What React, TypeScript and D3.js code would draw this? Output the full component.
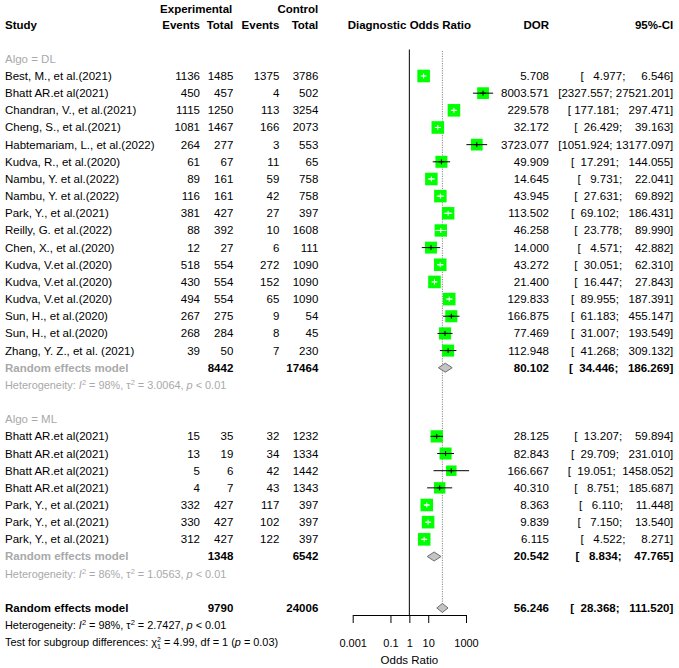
import React, { useEffect, useRef } from "react";
import * as d3 from "d3";

// ---------- DATA ----------
const dlStudy = [
  "Best, M., et al.(2021)", "Bhatt AR.et al(2021)", "Chandran, V., et al.(2021)", "Cheng, S., et al.(2021)",
  "Habtemariam, L., et al.(2022)", "Kudva, R., et al.(2020)", "Nambu, Y. et al.(2022)", "Nambu, Y. et al.(2022)",
  "Park, Y., et al.(2021)", "Reilly, G. et al.(2022)", "Chen, X., et al.(2020)", "Kudva, V.et al.(2020)",
  "Kudva, V.et al.(2020)", "Kudva, V.et al.(2020)", "Sun, H., et al.(2020)", "Sun, H., et al.(2020)",
  "Zhang, Y. Z., et al. (2021)",
];
const dlExpEvents = [1136, 450, 1115, 1081, 264, 61, 89, 116, 381, 88, 12, 518, 430, 494, 267, 268, 39];
const dlExpTotal = [1485, 457, 1250, 1467, 277, 67, 161, 161, 427, 392, 27, 554, 554, 554, 275, 284, 50];
const dlCtrlEvents = [1375, 4, 113, 166, 3, 11, 59, 42, 27, 10, 6, 272, 152, 65, 9, 8, 7];
const dlCtrlTotal = [3786, 502, 3254, 2073, 553, 65, 758, 758, 397, 1608, 111, 1090, 1090, 1090, 54, 45, 230];
const dlDor = [5.708, 8003.571, 229.578, 32.172, 3723.077, 49.909, 14.645, 43.945, 113.502, 46.258, 14.0, 43.272, 21.4, 129.833, 166.875, 77.469, 112.948];
const dlLower = [4.977, 2327.557, 177.181, 26.429, 1051.924, 17.291, 9.731, 27.631, 69.102, 23.778, 4.571, 30.051, 16.447, 89.955, 61.183, 31.007, 41.268];
const dlUpper = [6.546, 27521.201, 297.471, 39.163, 13177.097, 144.055, 22.041, 69.892, 186.431, 89.99, 42.882, 62.31, 27.843, 187.391, 455.147, 193.549, 309.132];
const dlWeight = [4.44, 3.88, 4.42, 4.43, 3.86, 4.02, 4.38, 4.36, 4.34, 4.27, 3.97, 4.39, 4.42, 4.39, 4.06, 4.12, 4.06];

const mlStudy = [
  "Bhatt AR.et al(2021)", "Bhatt AR.et al(2021)", "Bhatt AR.et al(2021)", "Bhatt AR.et al(2021)",
  "Park, Y., et al.(2021)", "Park, Y., et al.(2021)", "Park, Y., et al.(2021)",
];
const mlExpEvents = [15, 13, 5, 4, 332, 330, 312];
const mlExpTotal = [35, 19, 6, 7, 427, 427, 427];
const mlCtrlEvents = [32, 34, 42, 43, 117, 102, 122];
const mlCtrlTotal = [1232, 1334, 1442, 1343, 397, 397, 397];
const mlDor = [28.125, 82.843, 166.667, 40.31, 8.363, 9.839, 6.115];
const mlLower = [13.207, 29.709, 19.051, 8.751, 6.11, 7.15, 4.522];
const mlUpper = [59.894, 231.01, 1458.052, 185.687, 11.448, 13.54, 8.271];
const mlWeight = [4.22, 4.04, 3.07, 3.64, 4.41, 4.41, 4.41];

const groupLabels = ["Algo = DL", "Algo = ML"];
const summaryDor = [80.102, 20.542, 56.246];
const summaryLower = [34.446, 8.834, 28.368];
const summaryUpper = [186.269, 47.765, 111.52];
const summaryExpTotal = [8442, 1348, 9790];
const summaryCtrlTotal = [17464, 6542, 24006];
const hetI2 = ["98%", "86%", "98%"];
const hetTau2 = ["3.0064", "1.0563", "2.7427"];
const hetP = ["0.01", "0.01", "0.01"];
const testChi2 = "4.99";
const testDf = "1";
const testP = "0.03";

const tickValues = [0.001, 0.1, 1, 10, 1000];
const tickLabels = ["0.001", "0.1", "1", "10", "1000"];

// ---------- STYLE ----------
const FONT = "'Liberation Sans', Arial, Helvetica, sans-serif";
const FS = 11.5;
const FS_HET = 10.9;
const GRAY = "#a9a9a9";
const GREEN = "#00ff00";

const x = d3.scaleLog().domain([0.001, 1000]).range([352.7, 466]);
const y = d3.scaleLinear().domain([0, 33]).range([76, 642.3]);
const side = d3.scaleSqrt().domain([0, 4.44]).range([0, 12.6]);
const fmt3 = d3.format(".3f");

const allLower = [...dlLower, ...mlLower, ...summaryLower].map(fmt3);
const allUpper = [...dlUpper, ...mlUpper, ...summaryUpper].map(fmt3);
const lw = d3.max(allLower, (s) => s.length) as number;
const uw = d3.max(allUpper, (s) => s.length) as number;
const ciText = (lo: number, up: number) =>
  "[" + fmt3(lo).padStart(lw, " ") + "; " + fmt3(up).padStart(uw, " ") + "]";

const COL = { study: 5, expEv: 200, expTot: 233.3, ctlEv: 279.3, ctlTot: 318.3, dor: 549, ci: 673.3 };

type TP = { x: number; y: number; anchor?: string; bold?: boolean; color?: string; size?: number; children: any };
const T = ({ x, y, anchor = "start", bold = false, color = "#000", size = FS, children }: TP) => (
  <text
    x={x}
    y={y}
    textAnchor={anchor}
    fontWeight={bold ? "bold" : "normal"}
    fill={color}
    fontSize={size}
    fontFamily={FONT}
    style={{ whiteSpace: "pre" }}
    xmlSpace="preserve"
  >
    {children}
  </text>
);

const base = (r: number) => y(r) + 4;

function StudyRow({ r, name, ee, et, ce, ct, dor, lo, up, w }: any) {
  const cy = y(r);
  const cx = x(dor);
  const s = side(w);
  const inside = x(lo) >= cx - s / 2 && x(up) <= cx + s / 2;
  const lc = inside ? "#fff" : "#000";
  return (
    <g>
      <T x={COL.study} y={base(r)}>{name}</T>
      <T x={COL.expEv} y={base(r)} anchor="end">{ee}</T>
      <T x={COL.expTot} y={base(r)} anchor="end">{et}</T>
      <T x={COL.ctlEv} y={base(r)} anchor="end">{ce}</T>
      <T x={COL.ctlTot} y={base(r)} anchor="end">{ct}</T>
      <rect x={cx - s / 2} y={cy - s / 2} width={s} height={s} fill={GREEN} />
      <line x1={x(lo)} x2={x(up)} y1={cy} y2={cy} stroke={lc} strokeWidth={1} />
      <line x1={cx - 3} x2={cx + 3} y1={cy} y2={cy} stroke={lc} strokeWidth={1} />
      <line x1={cx} x2={cx} y1={cy - 2.5} y2={cy + 2.5} stroke={lc} strokeWidth={1} />
      <T x={COL.dor} y={base(r)} anchor="end">{fmt3(dor)}</T>
      <T x={COL.ci} y={base(r)} anchor="end">{ciText(lo, up)}</T>
    </g>
  );
}

function SummaryRow({ r, i, overall }: { r: number; i: number; overall: boolean }) {
  const cy = y(r);
  const h = 4.5;
  const p = `M${x(summaryLower[i])},${cy}L${x(summaryDor[i])},${cy - h}L${x(summaryUpper[i])},${cy}L${x(summaryDor[i])},${cy + h}Z`;
  return (
    <g>
      <T x={COL.study} y={base(r)} bold color={overall ? "#000" : GRAY}>Random effects model</T>
      <T x={COL.expTot} y={base(r)} anchor="end" bold>{summaryExpTotal[i]}</T>
      <T x={COL.ctlTot} y={base(r)} anchor="end" bold>{summaryCtrlTotal[i]}</T>
      <path d={p} fill="#c4c4c4" stroke="#6e6e6e" strokeWidth={1} />
      <T x={COL.dor} y={base(r)} anchor="end" bold>{fmt3(summaryDor[i])}</T>
      <T x={COL.ci} y={base(r)} anchor="end" bold>{ciText(summaryLower[i], summaryUpper[i])}</T>
    </g>
  );
}

function HetRow({ r, i, color }: { r: number; i: number; color: string }) {
  return (
    <T x={COL.study} y={base(r)} size={FS_HET} color={color}>
      {"Heterogeneity: "}
      <tspan fontStyle="italic">I</tspan>
      <tspan dy={-4} fontSize={7.5}>2</tspan>
      <tspan dy={4}>{" = " + hetI2[i] + ", τ"}</tspan>
      <tspan dy={-4} fontSize={7.5}>2</tspan>
      <tspan dy={4}>{" = " + hetTau2[i] + ", "}</tspan>
      <tspan fontStyle="italic">p</tspan>
      {" < " + hetP[i]}
    </T>
  );
}

export default function App() {
  const axisRef = useRef<SVGGElement>(null);
  useEffect(() => {
    if (!axisRef.current) return;
    const g = d3.select(axisRef.current);
    g.call(
      d3
        .axisBottom(x)
        .tickValues(tickValues)
        .tickFormat((_d, i) => tickLabels[i])
        .tickSize(8)
        .tickSizeOuter(0)
        .tickPadding(16) as any
    );
    g.attr("font-family", FONT).attr("font-size", 11);
    g.selectAll("text").attr("fill", "#000");
    g.selectAll("line").attr("stroke", "#000");
    g.select(".domain").attr("stroke", "#000");
  }, []);

  const mlStart = 21;
  const overallX = x(summaryDor[2]);

  return (
    <div style={{ position: "absolute", left: 0, top: 0 }}>
      <svg width={679} height={668} style={{ display: "block", background: "#fff" }}>
        {/* headers */}
        <T x={232.3} y={12.5} anchor="end" bold>Experimental</T>
        <T x={COL.ctlTot} y={12.5} anchor="end" bold>Control</T>
        <T x={COL.study} y={29} bold>Study</T>
        <T x={COL.expEv} y={29} anchor="end" bold>Events</T>
        <T x={COL.expTot} y={29} anchor="end" bold>Total</T>
        <T x={COL.ctlEv} y={29} anchor="end" bold>Events</T>
        <T x={COL.ctlTot} y={29} anchor="end" bold>Total</T>
        <T x={x(1)} y={29} anchor="middle" bold>Diagnostic Odds Ratio</T>
        <T x={COL.dor} y={29} anchor="end" bold>DOR</T>
        <T x={COL.ci} y={29} anchor="end" bold>95%-CI</T>

        {/* reference lines */}
        <line x1={x(1)} x2={x(1)} y1={49.5} y2={615} stroke="#000" strokeWidth={1} />
        <line x1={overallX} x2={overallX} y1={51} y2={613} stroke="#8a8a8a" strokeWidth={1} strokeDasharray="1.2,1.2" />

        {/* DL group */}
        <T x={COL.study} y={base(-1)} color={GRAY}>{groupLabels[0]}</T>
        {dlStudy.map((n, i) => (
          <StudyRow key={"dl" + i} r={i} name={n} ee={dlExpEvents[i]} et={dlExpTotal[i]} ce={dlCtrlEvents[i]}
            ct={dlCtrlTotal[i]} dor={dlDor[i]} lo={dlLower[i]} up={dlUpper[i]} w={dlWeight[i]} />
        ))}
        <SummaryRow r={17} i={0} overall={false} />
        <HetRow r={18} i={0} color={GRAY} />

        {/* ML group */}
        <T x={COL.study} y={base(20)} color={GRAY}>{groupLabels[1]}</T>
        {mlStudy.map((n, i) => (
          <StudyRow key={"ml" + i} r={mlStart + i} name={n} ee={mlExpEvents[i]} et={mlExpTotal[i]} ce={mlCtrlEvents[i]}
            ct={mlCtrlTotal[i]} dor={mlDor[i]} lo={mlLower[i]} up={mlUpper[i]} w={mlWeight[i]} />
        ))}
        <SummaryRow r={28} i={1} overall={false} />
        <HetRow r={29} i={1} color={GRAY} />

        {/* overall */}
        <SummaryRow r={31} i={2} overall={true} />
        <HetRow r={32} i={2} color="#000" />
        <T x={COL.study} y={base(33)} size={FS_HET}>
          {"Test for subgroup differences: χ"}
          <tspan dy={-4.5} fontSize={7}>2</tspan>
          <tspan dx={-3.9} dy={7.5} fontSize={7}>{testDf}</tspan>
          <tspan dy={-3}>{" = " + testChi2 + ", df = " + testDf + " ("}</tspan>
          <tspan fontStyle="italic">p</tspan>
          {" = " + testP + ")"}
        </T>

        {/* axis */}
        <g ref={axisRef} transform="translate(0,615)" />
        <T x={x(1)} y={664} anchor="middle">Odds Ratio</T>
      </svg>
    </div>
  );
}
